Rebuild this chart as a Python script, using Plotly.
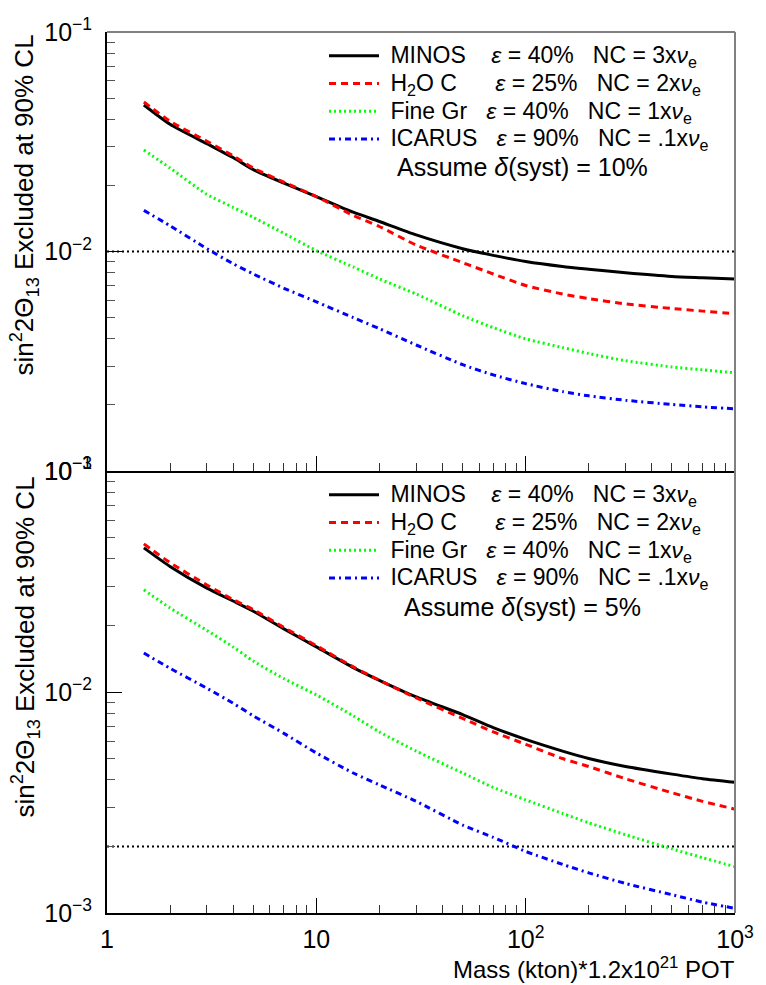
import plotly.graph_objects as go

# ---------------- data ----------------
MASS = [1.5, 2, 3, 4, 5, 7, 10, 15, 20, 30, 50, 70, 100, 150, 200, 300, 500, 700, 1000]

# top panel: delta(syst) = 10%
TOP_MINOS = [0.0465, 0.038, 0.031, 0.0268, 0.0236, 0.0205, 0.0178, 0.0151, 0.0137, 0.0119, 0.0103, 0.0096, 0.0090, 0.00854, 0.0083, 0.0080, 0.0077, 0.0076, 0.0075]
TOP_H2O = [0.048, 0.0392, 0.0318, 0.0273, 0.0240, 0.0207, 0.0178, 0.0146, 0.0130, 0.0107, 0.0089, 0.0079, 0.0070, 0.0064, 0.0061, 0.00577, 0.0055, 0.00535, 0.0052]
TOP_FINE = [0.0290, 0.0240, 0.0182, 0.0159, 0.0143, 0.0121, 0.0101, 0.0085, 0.0075, 0.0064, 0.0051, 0.0045, 0.0040, 0.00365, 0.00343, 0.00318, 0.00298, 0.00289, 0.0028]
TOP_ICARUS = [0.0154, 0.0131, 0.0103, 0.0088, 0.0079, 0.0068, 0.0059, 0.0050, 0.00445, 0.00375, 0.00305, 0.00274, 0.0025, 0.0023, 0.0022, 0.0021, 0.00201, 0.00196, 0.00192]

# bottom panel: delta(syst) = 5%
BOT_MINOS = [0.0449, 0.037, 0.0295, 0.0258, 0.0232, 0.0193, 0.0160, 0.0129, 0.0113, 0.0095, 0.0079, 0.0069, 0.0061, 0.0054, 0.0050, 0.0046, 0.00425, 0.00405, 0.0039]
BOT_H2O = [0.0468, 0.0385, 0.0305, 0.0262, 0.0236, 0.0196, 0.0162, 0.0130, 0.0113, 0.0094, 0.0076, 0.0066, 0.0058, 0.0050, 0.0046, 0.00405, 0.0035, 0.0032, 0.00295]
BOT_FINE = [0.0290, 0.0240, 0.0190, 0.0160, 0.0138, 0.0115, 0.0097, 0.0078, 0.0066, 0.0054, 0.0043, 0.0037, 0.00325, 0.00282, 0.00256, 0.00226, 0.00195, 0.00178, 0.00162]
BOT_ICARUS = [0.0150, 0.0128, 0.0104, 0.0089, 0.0078, 0.0065, 0.0053, 0.0043, 0.0038, 0.0032, 0.0025, 0.0022, 0.0019, 0.00166, 0.00152, 0.00136, 0.00121, 0.00112, 0.00105]

LIMIT_TOP = 0.01
LIMIT_BOT = 0.002
X_RANGE = [1, 1000]

DETECTORS = ["MINOS", "H<sub>2</sub>O C", "Fine Gr", "ICARUS"]
EFFICIENCY = ["40%", "25%", "40%", "90%"]
NC_RATIO = ["3", "2", "1", ".1"]
PAD = [4, 6, 3, 3]
SYST = ["10%", "5%"]

X_TICKVALS = [1, 10, 100, 1000]
X_TICKTEXT = ["1", "10", "10<sup>2</sup>", "10<sup>3</sup>"]
Y_TICKVALS = [0.001, 0.01, 0.1]
Y_TICKTEXT = ["10<sup>−3</sup>", "10<sup>−2</sup>", "10<sup>−1</sup>"]

# ---------------- style ----------------
FONT = "Liberation Sans, Arial, sans-serif"
COLORS = ["black", "#ff0000", "#00ff00", "#0000ff"]
DASHES = ["solid", "7px,5px", "2px,3px", "6px,4px,2px,4px"]
WIDTHS = [3, 3, 3, 3]

W, H = 766, 985
def px_x(p):
    return p / W
def px_y(p):
    return (H - p) / H

X_DOM = [px_x(107), px_x(735)]
TOP_DOM = [px_y(471), px_y(32)]
BOT_DOM = [px_y(913), px_y(471)]

NB = "\u00a0"

fig = go.Figure()

def label(i):
    return ('<span style="font-size:23px">' + NB + DETECTORS[i] + NB * PAD[i] +
            "<i>ε</i>" + NB + "=" + NB + EFFICIENCY[i] + NB * 3 + "NC" + NB + "=" + NB +
            NC_RATIO[i] + "x<i>ν</i><sub>e</sub></span>")

panels = [
    ("x", "y", "legend", [TOP_MINOS, TOP_H2O, TOP_FINE, TOP_ICARUS], LIMIT_TOP),
    ("x2", "y2", "legend2", [BOT_MINOS, BOT_H2O, BOT_FINE, BOT_ICARUS], LIMIT_BOT),
]

for xa, ya, lg, series, lim in panels:
    fig.add_trace(go.Scatter(
        x=X_RANGE, y=[lim, lim], mode="lines", xaxis=xa, yaxis=ya,
        line=dict(color="black", width=2, dash="2px,3px"),
        showlegend=False, hoverinfo="skip"))
    for i, ys in enumerate(series):
        fig.add_trace(go.Scatter(
            x=MASS, y=ys, mode="lines", xaxis=xa, yaxis=ya, legend=lg,
            name=label(i),
            line=dict(color=COLORS[i], width=WIDTHS[i], dash=DASHES[i],
                      shape="spline", smoothing=0.6)))

axis_common = dict(
    showgrid=False, zeroline=False, showline=True, linecolor="black", linewidth=2,
    ticks="inside", ticklen=15, tickwidth=1.3, tickcolor="black", automargin=False,
    tickfont=dict(family=FONT, size=25, color="black"),
)
minor_x = dict(ticks="inside", ticklen=8, tickwidth=1.2, tickcolor="#333333",
               tickvals=[2, 3, 4, 5, 6, 7, 8, 9, 20, 30, 40, 50, 60, 70, 80, 90,
                         200, 300, 400, 500, 600, 700, 800, 900], showgrid=False)
minor_y = dict(ticks="inside", ticklen=8, tickwidth=1.2, tickcolor="#555555",
               tickvals=[0.002, 0.003, 0.004, 0.005, 0.006, 0.007, 0.008, 0.009,
                         0.02, 0.03, 0.04, 0.05, 0.06, 0.07, 0.08, 0.09], showgrid=False)

legend_common = dict(xanchor="left", yanchor="top", bgcolor="rgba(0,0,0,0)",
                     borderwidth=0, itemwidth=50,
                     font=dict(family=FONT, size=19, color="black"),
                     itemclick=False, itemdoubleclick=False)

fig.update_layout(
    template="none",
    width=W, height=H, autosize=False,
    margin=dict(l=0, r=0, t=0, b=0, pad=0),
    paper_bgcolor="white", plot_bgcolor="white",
    font=dict(family=FONT, color="black"),
    showlegend=True,
    xaxis=dict(type="log", range=[0, 3], domain=X_DOM, anchor="y",
               tickvals=X_TICKVALS, ticktext=X_TICKTEXT, showticklabels=False,
               minor=minor_x, **axis_common),
    yaxis=dict(type="log", range=[-3, -1], domain=TOP_DOM, anchor="x",
               tickvals=Y_TICKVALS, ticktext=Y_TICKTEXT, ticklabelstandoff=8,
               minor=minor_y, **axis_common),
    xaxis2=dict(type="log", range=[0, 3], domain=X_DOM, anchor="y2",
                tickvals=X_TICKVALS, ticktext=X_TICKTEXT, ticklabelstandoff=3,
                minor=minor_x, **axis_common),
    yaxis2=dict(type="log", range=[-3, -1], domain=BOT_DOM, anchor="x2",
                tickvals=Y_TICKVALS, ticktext=Y_TICKTEXT, ticklabelstandoff=8,
                minor=minor_y, **axis_common),
    legend=dict(x=px_x(324), y=px_y(37), **legend_common),
    legend2=dict(x=px_x(324), y=px_y(476), **legend_common),
)

# gray frame edges (top and right) of each panel
for xr, yr, top in [("x domain", "y domain", True), ("x2 domain", "y2 domain", False)]:
    fig.add_shape(type="line", xref=xr, yref=yr, x0=1, x1=1, y0=0, y1=1,
                  line=dict(color="#808080", width=2))
    if top:
        fig.add_shape(type="line", xref=xr, yref=yr, x0=0, x1=1, y0=1, y1=1,
                      line=dict(color="#808080", width=2))

# annotations: systematic notes, axis titles
for yc, s in [(167, SYST[0]), (607, SYST[1])]:
    fig.add_annotation(x=px_x(522), y=px_y(yc), xref="paper", yref="paper",
                       xanchor="center", yanchor="middle",
                       text="Assume <i>δ</i>(syst)" + NB + "=" + NB + s, showarrow=False,
                       font=dict(family=FONT, size=25, color="black"))

YTITLE = "sin<sup>2</sup>2Θ<sub>13</sub> Excluded at 90% CL"
for ytop in [33, 475]:
    fig.add_annotation(x=px_x(25), y=px_y(ytop), xref="paper", yref="paper",
                       xanchor="center", yanchor="top",
                       text=YTITLE, textangle=-90, showarrow=False,
                       font=dict(family=FONT, size=26, color="black"))

fig.add_annotation(x=px_x(737), y=0, xref="paper", yref="paper",
                   xanchor="right", yanchor="bottom",
                   text="Mass (kton)*1.2x10<sup>21</sup> POT", showarrow=False,
                   font=dict(family=FONT, size=24, color="black"))

fig.write_html("out.html")
